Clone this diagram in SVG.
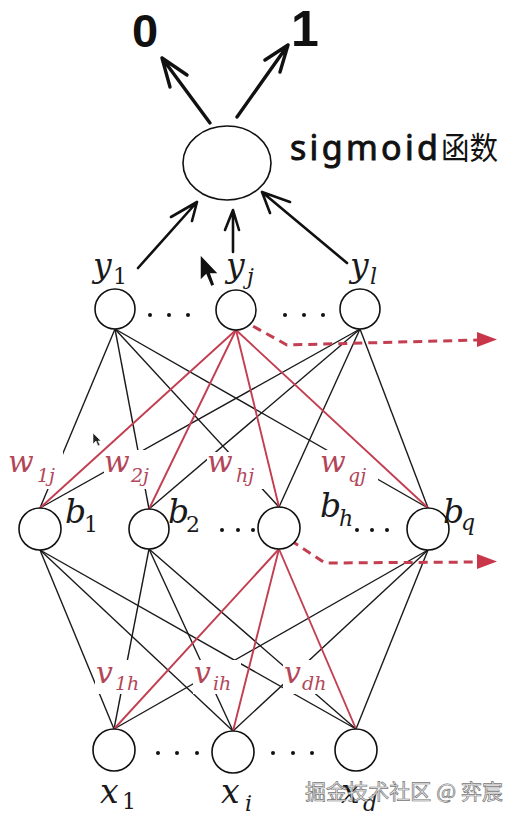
<svg xmlns="http://www.w3.org/2000/svg" width="530" height="822" viewBox="0 0 530 822">
<style>
.n{fill:#fff;stroke:#111;stroke-width:1.6}
.k{stroke:#1a1a1a;stroke-width:1.4;fill:none}
.r{stroke:#c23e50;stroke-width:1.9;fill:none}
.d{stroke:#c23e50;stroke-width:3;fill:none;stroke-dasharray:9 6}
.ah{fill:#c9364a}
.hand{stroke:#111;stroke-width:3.4;fill:none;stroke-linecap:round;stroke-linejoin:round}
.hand2{stroke:#111;stroke-width:2.6;fill:none;stroke-linecap:round;stroke-linejoin:round}
.m{font-family:"DejaVu Serif","Liberation Serif",serif;font-style:italic;fill:#1a1a1a}
.big{font-size:33px}
.sb{font-size:22px}
.wl{font-family:"DejaVu Serif","Liberation Serif",serif;font-style:italic;fill:#b3475a;font-size:30px}
.ws{font-size:19px}
.up{font-style:normal}
.box{fill:#fff}
.dot{fill:#111}
</style>
<g id="connectors">
<line class="k" x1="115" y1="329" x2="40" y2="508"/>
<line class="k" x1="115" y1="329" x2="149" y2="509"/>
<line class="k" x1="115" y1="329" x2="279" y2="507"/>
<line class="k" x1="115" y1="329" x2="428" y2="508"/>
<line class="k" x1="360" y1="329" x2="40" y2="508"/>
<line class="k" x1="360" y1="329" x2="149" y2="509"/>
<line class="k" x1="360" y1="329" x2="279" y2="507"/>
<line class="k" x1="360" y1="329" x2="428" y2="508"/>
<line class="k" x1="40" y1="550" x2="114" y2="729"/>
<line class="k" x1="40" y1="550" x2="233" y2="731"/>
<line class="k" x1="40" y1="550" x2="356" y2="729"/>
<line class="k" x1="149" y1="549" x2="114" y2="729"/>
<line class="k" x1="149" y1="549" x2="233" y2="731"/>
<line class="k" x1="149" y1="549" x2="356" y2="729"/>
<line class="k" x1="428" y1="550" x2="114" y2="729"/>
<line class="k" x1="428" y1="550" x2="233" y2="731"/>
<line class="k" x1="428" y1="550" x2="356" y2="729"/>
<path class="hand" d="M210,123 L162,58 M170,87 L162,58 L187,75"/>
<path class="hand" d="M237,117 L288,45 M265,60 L288,45 L280,72"/>
<path class="hand2" d="M138,268 L197,202 M171,217 L197,202 L192,221"/>
<path class="hand2" d="M233,252 L233,210 M225,230 L233,210 L239,230"/>
<path class="hand2" d="M347,263 L262,192 M290,202 L262,192 L270,213"/>
</g>
<g id="weight-labels">
<rect class="box" x="8" y="450" width="55" height="39"/>
<rect class="box" x="104" y="450" width="46" height="39"/>
<rect class="box" x="207" y="452" width="58" height="37"/>
<rect class="box" x="320" y="450" width="58" height="40"/>
<rect class="box" x="95" y="660" width="54" height="34"/>
<rect class="box" x="193" y="660" width="48" height="34"/>
<rect class="box" x="283" y="660" width="52" height="34"/>
</g>
<g id="red-connectors">
<line class="r" x1="236" y1="330" x2="40" y2="508"/>
<line class="r" x1="236" y1="330" x2="149" y2="509"/>
<line class="r" x1="236" y1="330" x2="279" y2="507"/>
<line class="r" x1="236" y1="330" x2="428" y2="508"/>
<line class="r" x1="279" y1="549" x2="114" y2="729"/>
<line class="r" x1="279" y1="549" x2="233" y2="731"/>
<line class="r" x1="279" y1="549" x2="356" y2="729"/>
<path class="d" d="M240,319 L287,345 L478,340"/>
<polygon class="ah" points="477,332 497,339.5 477,347"/>
<path class="d" d="M278,532 L325,563 L478,562"/>
<polygon class="ah" points="477,554 497,561.5 477,569"/>
</g>
<g id="weights">
<text class="wl" x="8" y="472">w<tspan class="ws" x="37" y="482">1j</tspan></text>
<text class="wl" x="104" y="472">w<tspan class="ws" x="131" y="482">2j</tspan></text>
<text class="wl" x="207" y="472">w<tspan class="ws" x="236" y="482">hj</tspan></text>
<text class="wl" x="320" y="472">w<tspan class="ws" x="348" y="482">qj</tspan></text>
<text class="wl" x="96" y="683">v<tspan class="ws" x="115" y="690">1h</tspan></text>
<text class="wl" x="194" y="683">v<tspan class="ws" x="213" y="690">ih</tspan></text>
<text class="wl" x="284" y="683">v<tspan class="ws" x="302" y="690">dh</tspan></text>
</g>
<g id="sigmoid">
<ellipse class="n" cx="227" cy="163" rx="44" ry="37" stroke-width="2.6"/>
<text x="290" y="160" font-family="'Noto Sans','Noto Sans CJK SC',sans-serif" font-size="34" fill="#111" stroke="#111" stroke-width="0.9" textLength="148" lengthAdjust="spacing">sigmoid</text>
<text x="441" y="159" font-family="'Noto Sans CJK SC',sans-serif" font-size="31" fill="#111" textLength="57" lengthAdjust="spacingAndGlyphs">函数</text>
</g>
<g id="out0"><text x="132" y="47" font-family="'Liberation Sans',Arial,sans-serif" font-weight="bold" font-size="47" fill="#111">0</text></g>
<g id="out1"><text x="291" y="46" font-family="'Liberation Sans',Arial,sans-serif" font-weight="bold" font-size="50" fill="#111">1</text></g>
<g id="y1"><circle class="n" cx="115" cy="309" r="20"/><text class="m big" x="93" y="277">y<tspan class="sb up" x="113" y="284">1</tspan></text></g>
<g id="yj"><circle class="n" cx="236" cy="310" r="20"/><text class="m big" x="226" y="277">y<tspan class="sb" x="247" y="284">j</tspan></text></g>
<g id="yl"><circle class="n" cx="360" cy="309" r="20"/><text class="m big" x="350" y="277">y<tspan class="sb" x="370" y="284">l</tspan></text></g>
<g id="ydots"><circle class="dot" cx="150" cy="315" r="2"/><circle class="dot" cx="169" cy="315" r="2"/><circle class="dot" cx="188" cy="315" r="2"/><circle class="dot" cx="285" cy="315" r="2"/><circle class="dot" cx="304" cy="315" r="2"/><circle class="dot" cx="323" cy="315" r="2"/></g>
<g id="b1"><circle class="n" cx="40" cy="529" r="21"/><text class="m big" x="65" y="523">b<tspan class="sb up" x="84" y="532">1</tspan></text></g>
<g id="b2"><circle class="n" cx="149" cy="529" r="20"/><text class="m big" x="168" y="523">b<tspan class="sb up" x="186" y="532">2</tspan></text></g>
<g id="bh"><circle class="n" cx="279" cy="528" r="21"/><text class="m big" x="320" y="517">b<tspan class="sb" x="339" y="526">h</tspan></text></g>
<g id="bq"><circle class="n" cx="428" cy="529" r="21"/><text class="m big" x="443" y="523">b<tspan class="sb" x="461" y="530">q</tspan></text></g>
<g id="bdots"><circle class="dot" cx="222" cy="530" r="2"/><circle class="dot" cx="238" cy="530" r="2"/><circle class="dot" cx="253" cy="530" r="2"/><circle class="dot" cx="357" cy="530" r="2"/><circle class="dot" cx="372" cy="530" r="2"/><circle class="dot" cx="387" cy="530" r="2"/></g>
<g id="x1"><circle class="n" cx="114" cy="750" r="21"/><text class="m big" x="100" y="803">x<tspan class="sb up" x="122" y="809">1</tspan></text></g>
<g id="xi"><circle class="n" cx="233" cy="752" r="21"/><text class="m big" x="221" y="803">x<tspan class="sb" x="245" y="811">i</tspan></text></g>
<g id="xd"><circle class="n" cx="356" cy="750" r="21"/><text class="m big" x="341" y="803">x<tspan class="sb" x="363" y="811">d</tspan></text></g>
<g id="xdots"><circle class="dot" cx="158" cy="753" r="2"/><circle class="dot" cx="177" cy="753" r="2"/><circle class="dot" cx="197" cy="753" r="2"/><circle class="dot" cx="273" cy="753" r="2"/><circle class="dot" cx="293" cy="753" r="2"/><circle class="dot" cx="312" cy="753" r="2"/></g>
<g id="cursors">
<polygon points="200,254 200,281 206,275 211,287 215,285 211,274 219,274" fill="#111" stroke="#fff" stroke-width="1.5"/>
<polygon points="93,433 93,444 96,441 98,446 100,445 98,441 101,441" fill="#222" stroke="#fff" stroke-width="0.6"/>
</g>
<g id="watermark"><text x="305" y="799" font-family="'Noto Sans CJK SC',sans-serif" font-size="21" fill="#eeeeee" stroke="#777" stroke-width="0.7" textLength="198">掘金技术社区 @ 弈宸</text></g>
</svg>
